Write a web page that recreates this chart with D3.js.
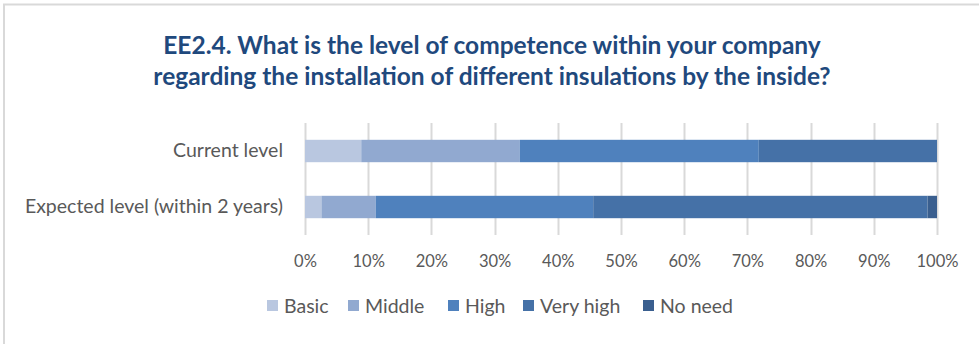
<!DOCTYPE html>
<html>
<head>
<meta charset="utf-8">
<script src="https://cdn.jsdelivr.net/npm/d3@7"></script>
<style>
  body { margin: 0; background: #fff; }
  text { font-family: Lato, "Open Sans", sans-serif; }
</style>
</head>
<body>
<svg id="chart" width="979" height="344"></svg>
<script>
// data (percent of answers)
var categories = ["Current level", "Expected level (within 2 years)"];
var levels = ["Basic", "Middle", "High", "Very high", "No need"];
var basic    = [8.9, 2.6];
var middle   = [25.1, 8.6];
var high     = [37.8, 34.4];
var veryHigh = [28.2, 52.9];
var noNeed   = [0.0, 1.5];
var ticks = [0, 10, 20, 30, 40, 50, 60, 70, 80, 90, 100];
var titleLines = ["EE2.4. What is the level of competence within your company",
                  "regarding the installation of different insulations by the inside?"];

var colors = ["#B9C7E0", "#91A9D0", "#4F81BD", "#4571A7", "#3A5F8F"];

var svg = d3.select("#chart");

// chart frame
svg.append("rect")
  .attr("x", 4).attr("y", 4.5)
  .attr("width", 990).attr("height", 360)
  .attr("fill", "#fff")
  .attr("stroke", "#D9D9D9")
  .attr("stroke-width", 2);

svg.selectAll(".title")
  .data(titleLines)
  .enter().append("text")
  .attr("class", "title")
  .attr("x", 492)
  .attr("y", function (d, i) { return 54 + i * 31; })
  .attr("text-anchor", "middle")
  .style("font-size", "24.5px")
  .style("font-weight", "bold")
  .style("fill", "#1F497D")
  .text(function (d) { return d; });

var margin = { top: 123, left: 305 },
  width = 632,
  height = 112;

var g = svg.append("g")
  .attr("transform", "translate(" + margin.left + "," + margin.top + ")");

var x = d3.scaleLinear().domain([0, 100]).range([0, width]);
var y = d3.scaleBand().domain(categories).range([0, height]).paddingInner(0.6).paddingOuter(0.3);

// gridlines
g.selectAll(".grid")
  .data(ticks)
  .enter().append("line")
  .attr("class", "grid")
  .attr("x1", function (d) { return Math.round(x(d)) + 0.5; })
  .attr("x2", function (d) { return Math.round(x(d)) + 0.5; })
  .attr("y1", 0)
  .attr("y2", height)
  .attr("stroke", "#D9D9D9")
  .attr("stroke-width", 2);

// stack the series
var rows = categories.map(function (c, i) {
  return { cat: c, Basic: basic[i], Middle: middle[i], High: high[i], "Very high": veryHigh[i], "No need": noNeed[i] };
});
var series = d3.stack().keys(levels)(rows);

g.selectAll(".series")
  .data(series)
  .enter().append("g")
  .attr("class", "series")
  .attr("fill", function (d, i) { return colors[i]; })
  .selectAll("rect")
  .data(function (d) { return d; })
  .enter().append("rect")
  .attr("x", function (d) { return x(d[0]); })
  .attr("width", function (d) { return x(d[1]) - x(d[0]); })
  .attr("y", function (d) { return y(d.data.cat); })
  .attr("height", y.bandwidth());

// x axis labels
var xAxis = g.append("g")
  .attr("transform", "translate(0," + height + ")")
  .call(d3.axisBottom(x).tickValues(ticks).tickSize(0).tickPadding(20)
    .tickFormat(function (d) { return d + "%"; }));
xAxis.select(".domain").remove();
xAxis.selectAll("text")
  .style("font-family", "Lato, sans-serif")
  .style("font-size", "16.5px")
  .style("fill", "#595959");

// category labels
var yAxis = g.append("g")
  .call(d3.axisLeft(y).tickSize(0).tickPadding(22));
yAxis.select(".domain").remove();
yAxis.selectAll("text")
  .style("font-family", "Lato, sans-serif")
  .style("font-size", "19.5px")
  .style("fill", "#595959");

// legend
var legendX = [267, 348, 448, 523, 643];
var legend = svg.selectAll(".legend")
  .data(levels)
  .enter().append("g")
  .attr("class", "legend")
  .attr("transform", function (d, i) { return "translate(" + legendX[i] + ",300)"; });

legend.append("rect")
  .attr("width", 11).attr("height", 11)
  .attr("fill", function (d, i) { return colors[i]; });

legend.append("text")
  .attr("x", 17)
  .attr("y", 13)
  .style("font-size", "19.5px")
  .style("fill", "#595959")
  .text(function (d) { return d; });
</script>
</body>
</html>
